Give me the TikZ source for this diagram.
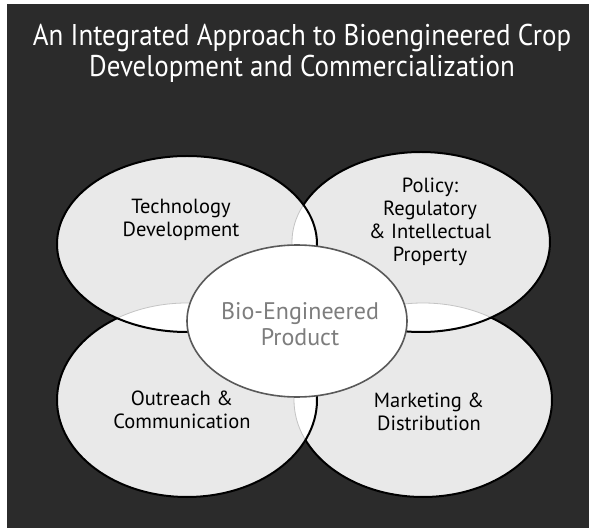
\documentclass[tikz,border=0pt]{standalone}
\usepackage{fontspec}
\usepackage{tikz}
\usetikzlibrary{positioning}
\newfontfamily\labelfont{PT Sans}
\newfontfamily\titlefont[FakeStretch=0.9]{PT Sans}
\definecolor{bggray}{HTML}{2B2B2B}
\definecolor{petal}{HTML}{E9E9E9}
\definecolor{seam}{HTML}{C4C4C4}
\definecolor{prodtext}{HTML}{7D7D7D}
\tikzset{
    petalfill/.style={
    fill=petal
    },
    petalrim/.style={
    draw=black,line width=2pt
    },
    petalseam/.style={
    draw=seam,line width=0.8pt
    },
    petallabel/.style={
    align=center,text=black,font=\labelfont\fontsize{20.5}{23}\selectfont
    },
    prodlabel/.style={
    align=center,text=prodtext,font=\labelfont\fontsize{24}{26}\selectfont
    },
    titlelabel/.style={
    align=center,text=white,font=\titlefont\fontsize{30}{31}\selectfont
    },
}
% the four petals and the centre
\def\techpath{(187,284) ellipse [x radius=130pt, y radius=88pt]}
\def\policypath{(421,286) ellipse [x radius=129pt, y radius=90pt]}
\def\outreachpath{(187,128) ellipse [x radius=130pt, y radius=97pt]}
\def\marketpath{(423,128) ellipse [x radius=129pt, y radius=97pt]}
\def\prodpath{(297,207) ellipse [x radius=110pt, y radius=76pt]}
\def\wholepage{(0,0) rectangle (589,528)}
\begin{document}
\begin{tikzpicture}[x=1pt, y=1pt]
  \useasboundingbox[fill=white] \wholepage;
  \fill[bggray] (7,0) rectangle (589,524);

  \fill[petalfill] \techpath;
  \fill[petalfill] \policypath;
  \fill[petalfill] \outreachpath;
  \fill[petalfill] \marketpath;

  % overlaps come out white
  \begin{scope}
    \clip \techpath;
    \fill[white] \policypath;
    \fill[white] \outreachpath;
    \fill[white] \marketpath;
  \end{scope}
  \begin{scope}
    \clip \marketpath;
    \fill[white] \policypath;
    \fill[white] \outreachpath;
  \end{scope}

  \draw[petalseam] \policypath;
  \draw[petalseam] \outreachpath;
  \draw[petalseam] \marketpath;

  % rims, hidden where a petal lies above
  \draw[petalrim] \techpath;
  \begin{scope}[even odd rule]
    \clip \wholepage \techpath;
    \draw[petalrim] \policypath;
    \draw[petalrim] \outreachpath;
    \begin{scope}
      \clip \wholepage \policypath;
      \clip \wholepage \outreachpath;
      \draw[petalrim] \marketpath;
    \end{scope}
  \end{scope}

  \fill[white] \prodpath;
  \draw[draw=gray!70!black,line width=1.6pt] \prodpath;

  \node[titlelabel] (title) at (302,475) {An Integrated Approach to Bioengineered Crop\\Development and Commercialization};
  \node[petallabel] (tech) at (181,308) {Technology\\Development};
  \node[petallabel] (policy) at (430,306) {Policy:\\Regulatory\\\& Intellectual\\Property};
  \node[prodlabel] (prod) at (300,204) {Bio-Engineered\\Product};
  \node[petallabel] (outreach) at (182,118) {Outreach \&\\Communication};
  \node[petallabel] (market) at (429,116) {Marketing \&\\Distribution};
\end{tikzpicture}
\end{document}
